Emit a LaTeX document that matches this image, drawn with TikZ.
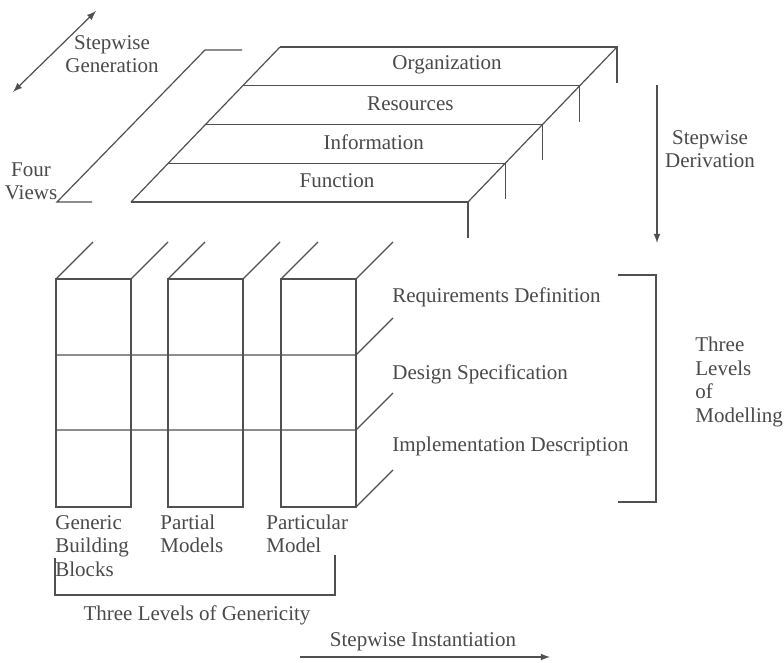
\documentclass[tikz,border=0pt]{standalone}
\usepackage{fontspec}
\setmainfont{Liberation Serif}
\usetikzlibrary{positioning, arrows}
\definecolor{lngray}{HTML}{505050}
\definecolor{txtgray}{HTML}{4A4A4A}

\begin{document}
\begin{tikzpicture}[x=0.5pt,y=-0.5pt,>=latex,
    every node/.style={font=\fontsize{10.5}{11.6}\selectfont,text=txtgray,inner sep=0pt},
    ln/.style={draw=lngray,line width=0.6pt},
    lbl/.style={anchor=west,align=left}]
    \fill[white] (0,0) rectangle (784,663);

    % stepwise generation
    \coordinate (gen a) at (13,92);
    \coordinate (gen b) at (96,11);
    \draw[ln,<->] (gen a) -- (gen b);
    \node[align=center] (gen) at (112,54) {Stepwise\\Generation};

    % four views
    \node[align=center] (views) at (31,181) {Four\\Views};
    \coordinate (fv bl) at (57,202);
    \coordinate (fv br) at (92,202);
    \coordinate (fv tl) at (205,50);
    \coordinate (fv tr) at (242,50);
    \draw[ln] (fv br) -- (fv bl) -- (fv tl) -- (fv tr);

    \foreach \k in {0,...,4} {
        \coordinate (pl\k) at (131+37.25*\k,202-38.75*\k);
        \coordinate (pr\k) at (468+37.25*\k,202-38.75*\k);
        \coordinate (pd\k) at (468+37.25*\k,238-38.75*\k);
        \draw[ln] (pl\k) -- (pr\k) -- (pd\k);
    }
    \draw[ln] (pl0) -- (pl4);
    \draw[ln] (pr0) -- (pr4);
    \foreach \v [count=\j from 0] in {Function,Information,Resources,Organization}
        \node (view\j) at (337+36.7*\j,181-38.6*\j) {\v};

    % stepwise derivation
    \coordinate (der a) at (657,85);
    \coordinate (der b) at (657,243);
    \draw[ln,->] (der a) -- (der b);
    \node[align=center] (der) at (710,149) {Stepwise\\Derivation};

    % building blocks
    \foreach \b/\x in {gen/56,part/168,spec/281} {
        \coordinate (tl-\b) at (\x,279);
        \coordinate (tr-\b) at (\x+75,279);
        \coordinate (br-\b) at (\x+75,507);
        \draw[ln] (tl-\b) rectangle (br-\b);
        \draw[ln] (tl-\b) -- ++(37,-37);
        \draw[ln] (tr-\b) -- ++(37,-37);
    }
    \foreach \y in {355,430} {
        \coordinate (ra\y) at (56,\y);
        \coordinate (rb\y) at (356,\y);
        \draw[ln] (ra\y) -- (rb\y) -- ++(37,-37);
    }
    \draw[ln] (br-spec) -- ++(37,-37);

    \node[lbl] (req) at (392,297) {Requirements Definition};
    \node[lbl] (des) at (392,374) {Design Specification};
    \node[lbl] (imp) at (392,446) {Implementation Description};

    % three levels of modelling
    \coordinate (mod a) at (618,275);
    \coordinate (mod b) at (656,275);
    \coordinate (mod c) at (656,502);
    \coordinate (mod d) at (618,502);
    \draw[ln] (mod a) -- (mod b) -- (mod c) -- (mod d);
    \node[lbl,font=\fontsize{10.5}{11.8}\selectfont] (modelling) at (695,382) {Three\\Levels\\of\\Modelling};

    % three levels of genericity
    \node[lbl] (gbb) at (55,546) {Generic\\Building\\Blocks};
    \node[lbl] (pm) at (160,534) {Partial\\Models};
    \node[lbl] (pam) at (266,534) {Particular\\Model};
    \coordinate (gnc a) at (55,558);
    \coordinate (gnc b) at (55,595);
    \coordinate (gnc c) at (335,595);
    \coordinate (gnc d) at (335,555);
    \draw[ln] (gnc a) -- (gnc b) -- (gnc c) -- (gnc d);
    \node (gnc) at (197,615) {Three Levels of Genericity};

    % stepwise instantiation
    \node (inst) at (423,642) {Stepwise Instantiation};
    \coordinate (inst a) at (300,657);
    \coordinate (inst b) at (550,657);
    \draw[ln,->] (inst a) -- (inst b);
\end{tikzpicture}
\end{document}
